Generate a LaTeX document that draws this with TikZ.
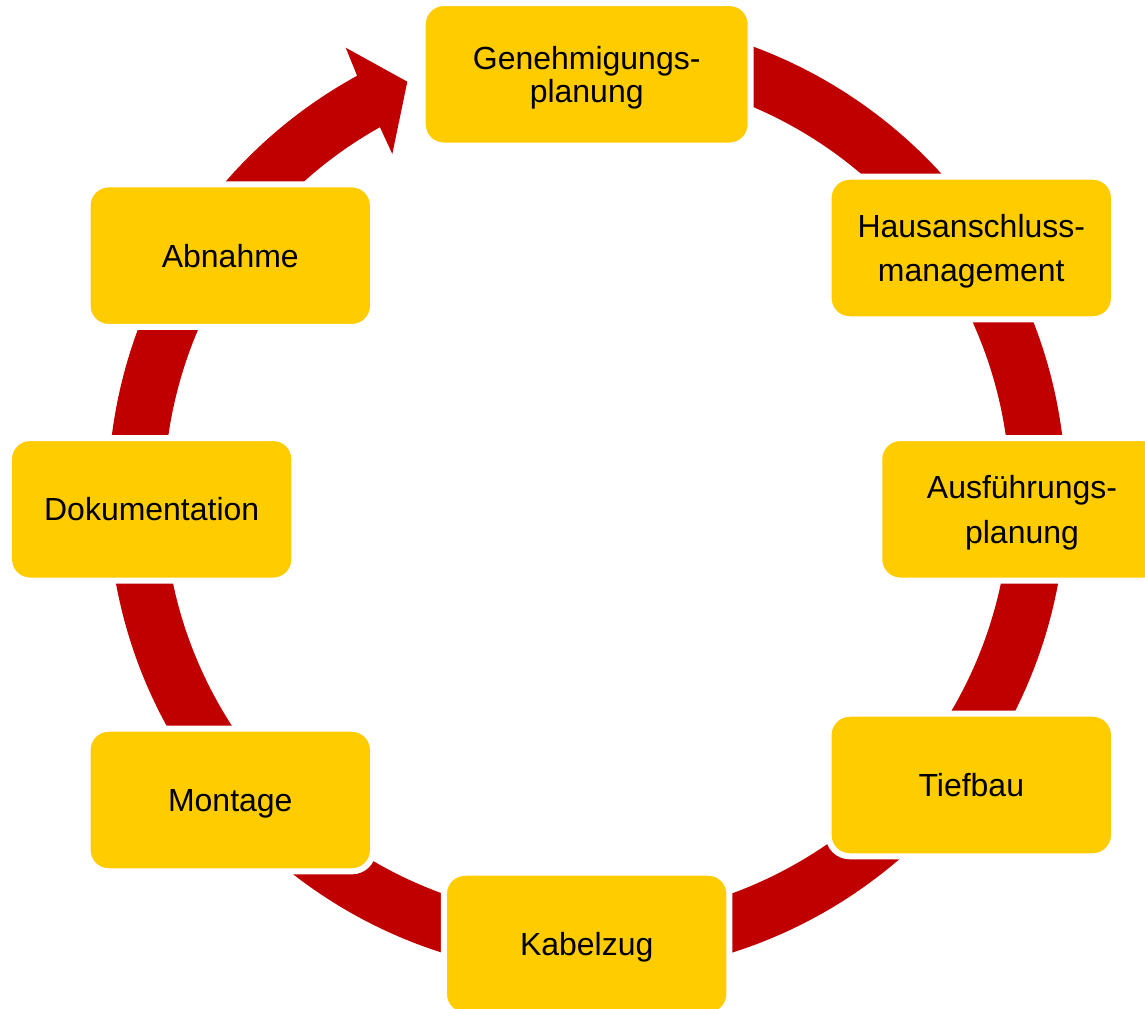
\documentclass[tikz,border=0pt]{standalone}
\usepackage{fontspec}
\setmainfont{Liberation Sans}
\usetikzlibrary{calc}
\definecolor{ringred}{HTML}{C00000}
\definecolor{boxyellow}{HTML}{FFCC00}
\begin{document}
\begin{tikzpicture}[x=0.02cm,y=0.02cm,
  stepbox/.style={rectangle, rounded corners=0.42cm, fill=boxyellow, draw=white,
    line width=0.12cm, minimum width=5.71cm, minimum height=2.852cm, inner sep=0pt,
    align=center, text=black, font=\fontsize{18.2pt}{25.5pt}\selectfont,
    text height=13pt, text depth=0pt},
  twoline/.style={text height=38.5pt},
  genbox/.style={minimum width=6.56cm, font=\fontsize{18.2pt}{18.9pt}\selectfont, text height=31.9pt}]
\useasboundingbox (0,0) rectangle (1145,1008);
\clip (0,0) rectangle (1145,1008);
\coordinate (ctr) at (587,512);
% circular arrow ring
\fill[ringred] ($(ctr)+(92:479)$) arc[start angle=92, end angle=-241.32, radius=479]
  -- (345.7,960.3) -- (407.3,926.3) -- (392.3,854)
  -- ($(ctr)+(-240.69:423)$) arc[start angle=-240.69, end angle=92, radius=423] -- cycle;
% steps
\node[stepbox, genbox] (gen) at (586.7,933.7) {Genehmigungs-\\planung};
\node[stepbox, twoline] (haus) at (971.3,760) {Hausanschluss-\\management};
\node[stepbox, twoline] (ausf) at (1022,498.7) {Ausführungs-\\planung};
\node[stepbox] (tief) at (971.3,223) {Tiefbau};
\node[stepbox] (kabel) at (586.7,64) {Kabelzug};
\node[stepbox] (mont) at (230.3,208) {Montage};
\node[stepbox] (doku) at (151.7,498.7) {Dokumentation};
\node[stepbox] (abn) at (230.3,752.3) {Abnahme};
\end{tikzpicture}
\end{document}
